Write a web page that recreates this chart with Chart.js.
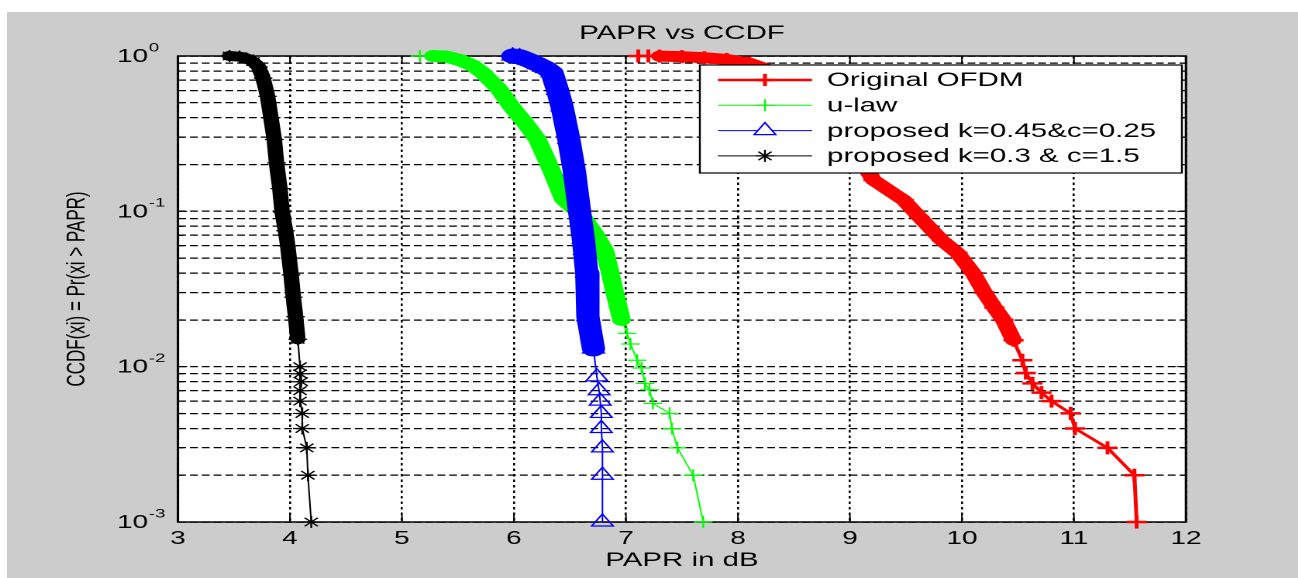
<!DOCTYPE html>
<html>
<head>
<meta charset="utf-8">
<title>PAPR vs CCDF</title>
<script src="https://cdn.jsdelivr.net/npm/chart.js@4.4.0/dist/chart.umd.min.js"></script>
<style>
  html, body { margin: 0; padding: 0; background: #fff; overflow: hidden; }
  #frame {
    position: absolute; left: 7px; top: 12px;
    width: 1291px; height: 566px;
    background: #cccccc; overflow: hidden;
  }
  /* the source figure was stretched sideways, so the whole canvas is too */
  #chart { position: absolute; left: 0; top: 0; transform: scaleX(1.55); transform-origin: 0 0; }
</style>
</head>
<body>
<div id="frame"><canvas id="chart" width="833" height="566"></canvas></div>
<script>
const FONT = "'Liberation Sans', Arial, Helvetica, sans-serif";

// ─── Data ─────────────────────────────────────────────────────────────────────

const chartTitle = "PAPR vs CCDF";
const xTicks = [3, 4, 5, 6, 7, 8, 9, 10, 11, 12];
const yDecades = [1, 0.1, 0.01, 0.001];
const yDecadeExp = ["0", "-1", "-2", "-3"];

const seriesNames = [
  "Original OFDM",
  "u-law",
  "proposed k=0.45&c=0.25",
  "proposed k=0.3 & c=1.5",
];

const ofdmPapr = [7.11, 7.2, 7.3, 7.5, 7.7, 7.9, 8.1, 8.35, 8.6, 8.85, 9.05, 9.21, 9.48, 9.62, 9.82,
  9.96, 10.1, 10.2, 10.29, 10.37, 10.46, 10.54, 10.57, 10.63, 10.71, 10.8, 10.97, 11.01, 11.3, 11.54, 11.56];
const ofdmCcdf = [1, 1, 0.998, 0.99, 0.975, 0.95, 0.9, 0.78, 0.6, 0.4, 0.24, 0.159, 0.118, 0.092, 0.065,
  0.054, 0.04, 0.03, 0.024, 0.02, 0.0148, 0.011, 0.0091, 0.0078, 0.0068, 0.006, 0.005, 0.004, 0.003, 0.002, 0.001];

const ulawPapr = [5.16, 5.28, 5.4, 5.52, 5.63, 5.72, 5.86, 5.98, 6.1, 6.21, 6.34, 6.44, 6.6, 6.72, 6.81,
  6.86, 6.9, 6.96, 7.01, 7.04, 7.1, 7.14, 7.17, 7.21, 7.24, 7.39, 7.41, 7.46, 7.6, 7.69];
const ulawCcdf = [1, 1, 0.99, 0.94, 0.87, 0.78, 0.62, 0.47, 0.37, 0.29, 0.18, 0.12, 0.095, 0.072, 0.056,
  0.04, 0.03, 0.02, 0.0164, 0.014, 0.011, 0.0098, 0.0078, 0.0071, 0.0058, 0.005, 0.004, 0.003, 0.002, 0.001];

const propAPapr = [5.99, 6.05, 6.13, 6.22, 6.29, 6.34, 6.39, 6.43, 6.49, 6.54, 6.58, 6.62, 6.63, 6.65,
  6.66, 6.71, 6.74, 6.76, 6.77, 6.78, 6.78, 6.79, 6.79, 6.79];
const propACcdf = [1, 0.99, 0.94, 0.88, 0.83, 0.78, 0.6, 0.47, 0.29, 0.18, 0.107, 0.066, 0.056, 0.04,
  0.021, 0.013, 0.0086, 0.007, 0.006, 0.005, 0.004, 0.003, 0.002, 0.001];

const propBPapr = [3.46, 3.55, 3.62, 3.67, 3.72, 3.76, 3.8, 3.83, 3.86, 3.88, 3.91, 3.93, 3.96, 3.98,
  4.01, 4.03, 4.05, 4.07, 4.09, 4.09, 4.1, 4.09, 4.09, 4.11, 4.11, 4.15, 4.16, 4.19];
const propBCcdf = [1, 0.99, 0.96, 0.92, 0.85, 0.72, 0.55, 0.4, 0.29, 0.205, 0.14, 0.099, 0.075, 0.06,
  0.039, 0.028, 0.021, 0.015, 0.01, 0.009, 0.008, 0.007, 0.006, 0.005, 0.004, 0.003, 0.002, 0.001];

// grid lines at 1..9 of every decade, like MATLAB's minor grid
const yGrid = [1];
yDecades.slice(1).forEach((d) => { for (let k = 1; k <= 9; k++) yGrid.push(+(d * k).toPrecision(3)); });

// ─── Styles ───────────────────────────────────────────────────────────────────

const STYLES = [
  { color: "#ff0000", line: 2.5, marker: "cross",    size: 6.5, mwidth: 2.5, band: 11, bandFrom: 2, bandUntil: 0.012, order: 4 },
  { color: "#00ff00", line: 1,   marker: "cross",    size: 6,   mwidth: 1.2, band: 12, bandFrom: 1, bandUntil: 0.018, order: 3 },
  { color: "#0000ff", line: 1,   marker: "triangle", size: 8,   mwidth: 1.2, band: 15, bandFrom: 0, bandUntil: 0.012, order: 2 },
  { color: "#000000", line: 1,   marker: "star",     size: 6,   mwidth: 1.2, band: 10, bandFrom: 0, bandUntil: 0.015, order: 1 },
];

function buildSeries(i, xs, ys) {
  const s = STYLES[i];
  return {
    label: seriesNames[i],
    data: xs.map((x, k) => ({ x, y: ys[k] })),
    borderColor: s.color,
    backgroundColor: s.color,
    borderWidth: s.line,
    borderCapStyle: "round",
    borderJoinStyle: "round",
    pointStyle: s.marker,
    pointRadius: s.size,
    pointBorderColor: s.color,
    pointBackgroundColor: "rgba(0,0,0,0)",
    pointBorderWidth: s.mwidth,
    tension: 0,
    clip: false,
    order: s.order,
    // many overlapping markers make a solid band where the samples are dense
    segment: {
      borderWidth: (ctx) =>
        ctx.p0DataIndex >= s.bandFrom && ctx.p1.parsed.y >= s.bandUntil ? s.band : s.line,
    },
  };
}

// ─── Plugins ──────────────────────────────────────────────────────────────────

function drawMarker(ctx, style, x, y, r) {
  ctx.beginPath();
  if (style === "cross" || style === "star") {
    ctx.moveTo(x - r, y); ctx.lineTo(x + r, y);
    ctx.moveTo(x, y - r); ctx.lineTo(x, y + r);
  }
  if (style === "star") {
    const d = r * Math.SQRT1_2;
    ctx.moveTo(x - d, y - d); ctx.lineTo(x + d, y + d);
    ctx.moveTo(x - d, y + d); ctx.lineTo(x + d, y - d);
  }
  if (style === "triangle") {
    ctx.moveTo(x, y - r);
    ctx.lineTo(x + 0.866 * r, y + 0.5 * r);
    ctx.lineTo(x - 0.866 * r, y + 0.5 * r);
    ctx.closePath();
  }
  ctx.stroke();
}

const plotBackground = {
  id: "plotBackground",
  beforeDraw(chart) {
    const { ctx, chartArea: a } = chart;
    ctx.save();
    ctx.fillStyle = "#fff";
    ctx.fillRect(a.left, a.top, a.right - a.left, a.bottom - a.top);
    ctx.restore();
  },
};

const axesBox = {
  id: "axesBox",
  beforeDatasetsDraw(chart) {
    const { ctx, chartArea: a, scales } = chart;
    ctx.save();
    ctx.strokeStyle = "#000";
    ctx.lineWidth = 1;
    ctx.beginPath();
    yGrid.forEach((v) => {
      const y = scales.y.getPixelForValue(v);
      const len = yDecades.includes(v) ? 6 : 3.5;
      ctx.moveTo(a.left, y); ctx.lineTo(a.left + len, y);
      ctx.moveTo(a.right, y); ctx.lineTo(a.right - len, y);
    });
    xTicks.forEach((v) => {
      const x = scales.x.getPixelForValue(v);
      ctx.moveTo(x, a.bottom); ctx.lineTo(x, a.bottom - 7);
      ctx.moveTo(x, a.top); ctx.lineTo(x, a.top + 7);
    });
    ctx.stroke();
    ctx.lineWidth = 1.5;
    ctx.strokeRect(a.left, a.top, a.right - a.left, a.bottom - a.top);
    ctx.restore();
  },
};

const textLabels = {
  id: "textLabels",
  afterDraw(chart) {
    const { ctx, chartArea: a, scales } = chart;
    ctx.save();
    ctx.fillStyle = "#000";
    ctx.textBaseline = "middle";

    // title, centred over the axes like MATLAB does
    ctx.font = `19px ${FONT}`;
    ctx.textAlign = "center";
    ctx.fillText(chartTitle, (a.left + a.right) / 2, 22);

    // 10^n labels of the log axis
    yDecades.forEach((v, i) => {
      const y = scales.y.getPixelForValue(v) + 1;
      const x = a.left - 19.3;
      ctx.font = `18px ${FONT}`;
      ctx.textAlign = "right";
      ctx.fillText("10", x, y);
      ctx.font = `12px ${FONT}`;
      ctx.textAlign = "left";
      ctx.fillText(yDecadeExp[i], x + 0.5, y - 9);
    });
    ctx.restore();
  },
};

const boxLegend = {
  id: "boxLegend",
  afterDraw(chart) {
    const { ctx } = chart;
    const box = { left: 447, top: 53, right: 758, bottom: 161 };
    ctx.save();
    ctx.fillStyle = "#fff";
    ctx.fillRect(box.left, box.top, box.right - box.left, box.bottom - box.top);
    ctx.strokeStyle = "#000";
    ctx.lineWidth = 1.2;
    ctx.strokeRect(box.left, box.top, box.right - box.left, box.bottom - box.top);
    ctx.font = `19px ${FONT}`;
    ctx.textBaseline = "middle";
    ctx.textAlign = "left";
    seriesNames.forEach((name, i) => {
      const s = STYLES[i];
      const y = box.top + 15 + i * 25.3;
      ctx.strokeStyle = s.color;
      ctx.lineWidth = s.line;
      ctx.beginPath();
      ctx.moveTo(458.7, y); ctx.lineTo(519.4, y);
      ctx.stroke();
      ctx.lineWidth = s.mwidth;
      const r = s.marker === "triangle" ? 8 : 6;
      if (s.marker === "triangle") {
        ctx.fillStyle = "#fff";
        ctx.beginPath();
        ctx.moveTo(489, y - r); ctx.lineTo(489 + 0.866 * r, y + 0.5 * r); ctx.lineTo(489 - 0.866 * r, y + 0.5 * r);
        ctx.closePath();
        ctx.fill();
      }
      drawMarker(ctx, s.marker, 489, y, r);
      ctx.fillStyle = "#000";
      ctx.fillText(name, 529, y + 1);
    });
    ctx.restore();
  },
};

// ─── Chart ────────────────────────────────────────────────────────────────────

new Chart(document.getElementById("chart"), {
  type: "line",
  data: {
    datasets: [
      buildSeries(0, ofdmPapr, ofdmCcdf),
      buildSeries(1, ulawPapr, ulawCcdf),
      buildSeries(2, propAPapr, propACcdf),
      buildSeries(3, propBPapr, propBCcdf),
    ],
  },
  plugins: [plotBackground, axesBox, textLabels, boxLegend],
  options: {
    responsive: false,
    devicePixelRatio: 2,
    animation: false,
    events: [],
    layout: { padding: { left: 0, right: 72.4, top: 44, bottom: 0 } },
    plugins: {
      legend: { display: false },
      tooltip: { enabled: false },
      title: { display: false },
    },
    scales: {
      x: {
        type: "linear",
        min: 3,
        max: 12,
        afterFit: (scale) => { scale.height = 56; },
        afterBuildTicks: (scale) => { scale.ticks = xTicks.map((v) => ({ value: v })); },
        ticks: { color: "#000", padding: 6, font: { family: FONT, size: 18 } },
        grid: { color: "#000", lineWidth: 1.3, drawTicks: false },
        border: { display: false, dash: [2.5, 3] },
        title: {
          display: true,
          text: "PAPR in dB",
          color: "#000",
          font: { family: FONT, size: 19, lineHeight: 1.2 },
          padding: { top: 0, bottom: 5.6 },
        },
      },
      y: {
        type: "logarithmic",
        min: 0.001,
        max: 1,
        afterFit: (scale) => { scale.width = 110.3; },
        afterBuildTicks: (scale) => { scale.ticks = yGrid.map((v) => ({ value: v })); },
        ticks: { display: false },
        grid: { color: "#000", lineWidth: 1.3, drawTicks: false },
        border: { display: false, dash: [5, 2.6] },
        title: {
          display: true,
          text: "CCDF(xi) = Pr(xi > PAPR)",
          color: "#000",
          font: { family: FONT, size: 17, lineHeight: 1.2 },
          padding: { top: 35, bottom: 0 },
        },
      },
    },
  },
});
</script>
</body>
</html>
